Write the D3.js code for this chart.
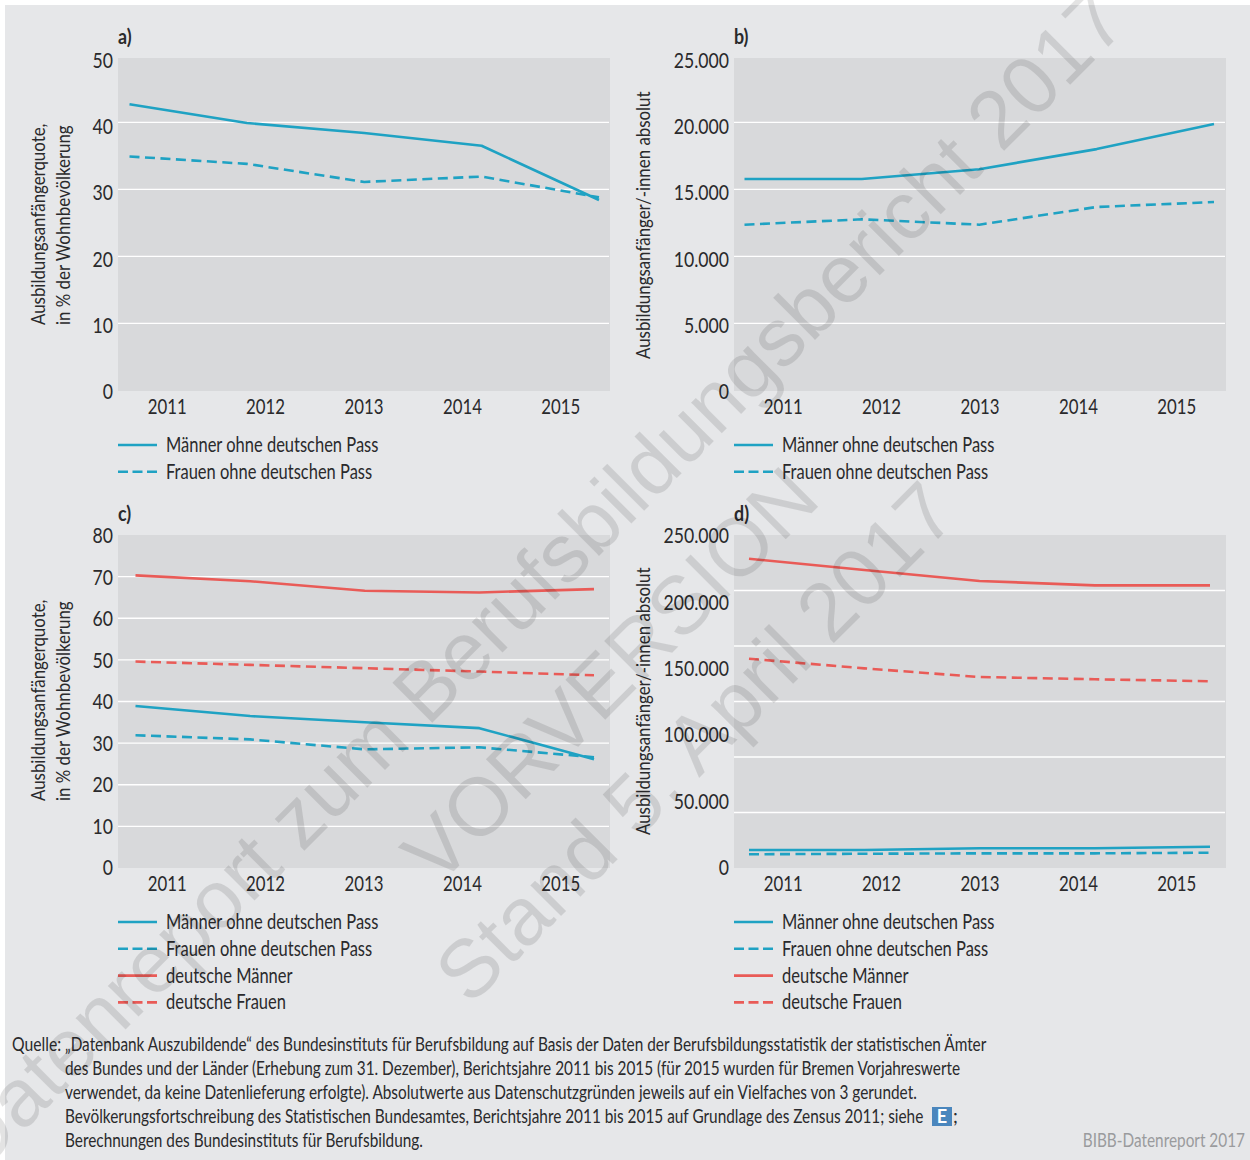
<!DOCTYPE html>
<html>
<head>
<meta charset="utf-8">
<script src="https://cdn.jsdelivr.net/npm/d3@7"></script>
<style>
  html, body { margin: 0; padding: 0; background: #fff; }
  text { font-family: Lato, 'Liberation Sans', sans-serif; fill: #2a2a2c; }
</style>
</head>
<body>
<div class="chart"></div>
<script>
const years = [2011, 2012, 2013, 2014, 2015];

// panel a, quote in %
const menForeignRate = [42.7, 39.9, 38.4, 36.5, 28.4];
const womenForeignRate = [34.9, 33.8, 31.1, 31.9, 28.8];
// panel b, absolute
const menForeignAbs = [15770, 15770, 16500, 18000, 19870];
const womenForeignAbs = [12360, 12760, 12360, 13680, 14050];
// panel c, quote in %
const menForeignRateC = [38.9, 36.5, 35.0, 33.6, 26.1];
const womenForeignRateC = [31.9, 30.9, 28.5, 29.0, 26.6];
const menGermanRate = [70.3, 68.9, 66.6, 66.2, 67.0];
const womenGermanRate = [49.6, 48.8, 48.0, 47.2, 46.3];
// panel d, absolute
const menForeignAbsD = [13500, 13500, 14800, 14800, 16000];
const womenForeignAbsD = [10300, 10700, 11000, 11000, 11500];
const menGermanAbs = [232200, 223700, 215500, 212200, 212200];
const womenGermanAbs = [157100, 149900, 143400, 141700, 140200];

const ticksA = [0, 10, 20, 30, 40, 50];
const ticksB = [0, 5000, 10000, 15000, 20000, 25000];
const ticksC = [0, 10, 20, 30, 40, 50, 60, 70, 80];
const ticksD = [0, 50000, 100000, 150000, 200000, 250000];
// panel d has its white lines on sixths of the axis, not on the labels
const gridD = [41667, 83333, 125000, 166667, 208333];

const seriesNames = ['Männer ohne deutschen Pass', 'Frauen ohne deutschen Pass', 'deutsche Männer', 'deutsche Frauen'];
const titleRate = ['Ausbildungsanfängerquote,', 'in % der Wohnbevölkerung'];
const titleAbs = ['Ausbildungsanfänger/-innen absolut'];

const sourceLines = [
  '„Datenbank Auszubildende“ des Bundesinstituts für Berufsbildung auf Basis der Daten der Berufsbildungsstatistik der statistischen Ämter',
  'des Bundes und der Länder (Erhebung zum 31. Dezember), Berichtsjahre 2011 bis 2015 (für 2015 wurden für Bremen Vorjahreswerte',
  'verwendet, da keine Datenlieferung erfolgte). Absolutwerte aus Datenschutzgründen jeweils auf ein Vielfaches von 3 gerundet.',
  'Bevölkerungsfortschreibung des Statistischen Bundesamtes, Berichtsjahre 2011 bis 2015 auf Grundlage des Zensus 2011; siehe',
  'Berechnungen des Bundesinstituts für Berufsbildung.'
];

const blue = '#1fa2c3';
const red = '#e95b57';
const de = d3.formatLocale({ decimal: ',', thousands: '.', grouping: [3], currency: ['', ''] });

// no condensed font on the box, so squeeze the glyphs
const squeeze = (selection, factor) => {
  selection.each(function () {
    const length = this.getComputedTextLength();
    d3.select(this)
      .attr('textLength', length * factor)
      .attr('lengthAdjust', 'spacingAndGlyphs');
  });
};

const svg = d3.select('.chart')
  .append('svg')
    .attr('width', 1250)
    .attr('height', 1160)
    .style('display', 'block');

svg.append('rect')
  .attr('x', 5).attr('y', 5)
  .attr('width', 1245).attr('height', 1155)
  .attr('fill', '#e6e7e9');

const panels = [
  { name: 'a)', x: 118, top: 58, bottom: 391, gridTop: 55.3, gridBottom: 390.3, domain: 50, ticks: ticksA,
    labelRange: [392, 60.5], points: [129.5, 599], title: titleRate, titleX: 45, titleY: 325,
    series: [menForeignRate, womenForeignRate] },
  { name: 'b)', x: 734, top: 58, bottom: 391, gridTop: 55.3, gridBottom: 390.3, domain: 25000, ticks: ticksB,
    labelRange: [392, 60.5], points: [744.5, 1214], title: titleAbs, titleX: 650, titleY: 359,
    series: [menForeignAbs, womenForeignAbs] },
  { name: 'c)', x: 118, top: 535, bottom: 868, gridTop: 535, gridBottom: 868, domain: 80, ticks: ticksC,
    labelRange: [868, 536], points: [135.5, 594], title: titleRate, titleX: 45, titleY: 801,
    series: [menForeignRateC, womenForeignRateC, menGermanRate, womenGermanRate] },
  { name: 'd)', x: 734, top: 535, bottom: 868, gridTop: 535, gridBottom: 868, domain: 250000, ticks: ticksD, grid: gridD,
    labelRange: [868, 536], points: [749, 1210], title: titleAbs, titleX: 650, titleY: 835,
    series: [menForeignAbsD, womenForeignAbsD, menGermanAbs, womenGermanAbs] }
];

const drawPanel = (p) => {
  const width = 492;
  const g = svg.append('g');

  g.append('rect')
    .attr('x', p.x).attr('y', p.top)
    .attr('width', width).attr('height', p.bottom - p.top)
    .attr('fill', '#d8d9db');

  g.append('text')
    .attr('x', p.x).attr('y', p.top - 14)
    .attr('font-size', 21).attr('font-weight', 700)
    .text(p.name)
    .call(squeeze, 0.85);

  const y = d3.scaleLinear().domain([0, p.domain]).range([p.gridBottom, p.gridTop]);
  const yLabel = d3.scaleLinear().domain([0, p.domain]).range(p.labelRange);
  const xBand = d3.scaleBand().domain(years).range([p.x, p.x + width]);
  const xPoint = d3.scalePoint().domain(years).range(p.points);

  //white lines
  const gridValues = p.grid || p.ticks.filter((t) => t > 0 && t < p.domain);
  g.selectAll('.grid')
    .data(gridValues)
    .enter()
    .append('line')
      .attr('x1', p.x).attr('x2', p.x + width - 1)
      .attr('y1', (d) => y(d)).attr('y2', (d) => y(d))
      .attr('stroke', '#fff')
      .attr('stroke-width', 1.3);

  //axes, only the labels stay
  const yAxis = g.append('g')
    .attr('transform', `translate(${p.x - 5},0)`)
    .call(d3.axisLeft(yLabel).tickValues(p.ticks).tickSize(0).tickPadding(0).tickFormat(de.format(',.0f')));
  const xAxis = g.append('g')
    .attr('transform', `translate(0,${p.bottom})`)
    .call(d3.axisBottom(xBand).tickSize(0).tickPadding(8).tickFormat(d3.format('d')));
  [[yAxis, 0.84], [xAxis, 0.8]].forEach(([a, factor]) => {
    a.select('.domain').remove();
    a.selectAll('text')
      .attr('font-size', 21)
      .style('font-family', 'Lato, sans-serif')
      .attr('fill', '#2a2a2c')
      .call(squeeze, factor);
  });

  //y title
  const title = g.append('text')
    .attr('transform', `translate(${p.titleX},${p.titleY}) rotate(-90)`)
    .attr('font-size', 19.5);
  p.title.forEach((t, i) => {
    title.append('tspan')
      .attr('x', 0)
      .attr('y', i * 25)
      .text(t)
      .call(squeeze, 0.865);
  });

  //lines
  const line = d3.line()
    .x((d, i) => xPoint(years[i]))
    .y((d) => y(d));
  g.selectAll('.series')
    .data(p.series)
    .enter()
    .append('path')
      .attr('d', line)
      .attr('fill', 'none')
      .attr('stroke', (d, i) => (i < 2 ? blue : red))
      .attr('stroke-width', 2.6)
      .attr('stroke-linejoin', 'round')
      .attr('stroke-dasharray', (d, i) => (i % 2 ? '10,5.5' : null));

  //legend
  const legend = g.selectAll('.legend')
    .data(seriesNames.slice(0, p.series.length))
    .enter()
    .append('g')
      .attr('transform', (d, i) => `translate(${p.x},${p.bottom + 54 + i * 26.8})`);
  legend.append('line')
    .attr('x1', 0).attr('x2', 39)
    .attr('stroke', (d, i) => (i < 2 ? blue : red))
    .attr('stroke-width', 2.6)
    .attr('stroke-dasharray', (d, i) => (i % 2 ? '10,4.5' : null));
  legend.append('text')
    .attr('x', 48).attr('y', 7)
    .attr('font-size', 21)
    .text((d) => d)
    .call(squeeze, 0.785);
};

panels.forEach(drawPanel);

//source note
const foot = svg.append('g').attr('font-size', 18.5);
foot.append('text').attr('x', 12).attr('y', 1051).text('Quelle:').call(squeeze, 0.85);
foot.selectAll('.src')
  .data(sourceLines)
  .enter()
  .append('text')
    .attr('x', 65)
    .attr('y', (d, i) => 1051 + i * 24.1)
    .text((d) => d)
    .call(squeeze, 0.83);
foot.append('rect')
  .attr('x', 932).attr('y', 1107)
  .attr('width', 20).attr('height', 19)
  .attr('fill', '#4a86bd');
foot.append('text')
  .attr('x', 942).attr('y', 1123)
  .attr('text-anchor', 'middle')
  .attr('font-size', 18).attr('font-weight', 700)
  .style('fill', '#fff')
  .text('E');
foot.append('text').attr('x', 953).attr('y', 1123).text(';');
svg.append('text')
  .attr('x', 1245).attr('y', 1147)
  .attr('text-anchor', 'end')
  .attr('font-size', 18.5)
  .style('fill', '#9a9b9d')
  .text('BIBB-Datenreport 2017')
  .call(squeeze, 0.83);

//watermark on top of everything
const marks = [
  { text: 'Datenreport zum Berufsbildungsbericht 2017', x: 555, y: 600 },
  { text: 'VORVERSION', x: 630, y: 695 },
  { text: 'Stand 5. April 2017', x: 715, y: 762 }
];
svg.selectAll('.mark')
  .data(marks)
  .enter()
  .append('text')
    .attr('transform', (d) => `translate(${d.x},${d.y}) rotate(-45)`)
    .attr('text-anchor', 'middle')
    .attr('font-size', 82)
    .style('font-family', "'Liberation Sans', sans-serif")
    .style('fill', '#000')
    .style('fill-opacity', 0.11)
    .text((d) => d.text);
</script>
</body>
</html>
